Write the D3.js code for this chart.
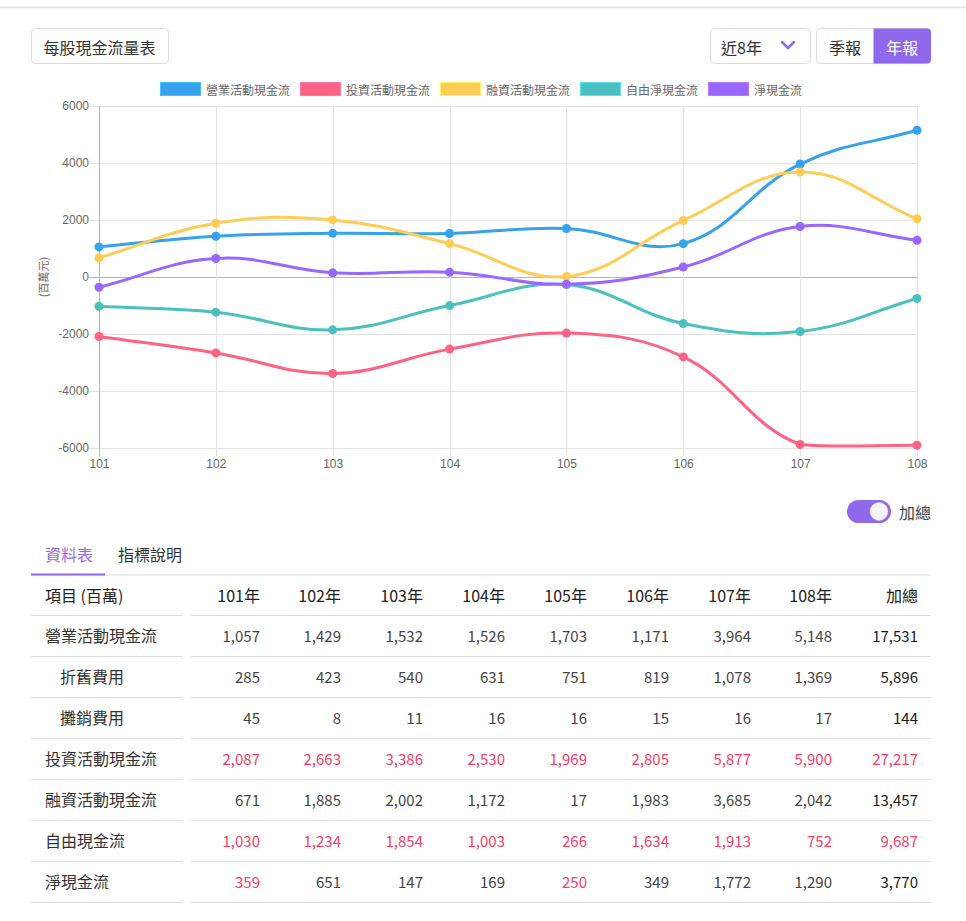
<!DOCTYPE html>
<html>
<head>
<meta charset="utf-8">
<script src="https://cdn.jsdelivr.net/npm/d3@7"></script>
<style>
  body { margin: 0; background: #fff; }
  svg { display: block; font-family: "Noto Sans CJK TC", "Noto Sans", sans-serif; }
</style>
</head>
<body>
<section></section>
<script>
"use strict";

// data
const years = ["101", "102", "103", "104", "105", "106", "107", "108"];
const seriesNames = ["營業活動現金流", "投資活動現金流", "融資活動現金流", "自由淨現金流", "淨現金流"];
const seriesColors = ["#36a2eb", "#ff6384", "#ffcd56", "#4bc0c0", "#9966ff"];
const operating = [1057, 1429, 1532, 1526, 1703, 1171, 3964, 5148];
const depreciation = [285, 423, 540, 631, 751, 819, 1078, 1369];
const amortization = [45, 8, 11, 16, 16, 15, 16, 17];
const investing = [-2087, -2663, -3386, -2530, -1969, -2805, -5877, -5900];
const financing = [671, 1885, 2002, 1172, 17, 1983, 3685, 2042];
const freeCash = [-1030, -1234, -1854, -1003, -266, -1634, -1913, -752];
const netCash = [-359, 651, 147, 169, -250, 349, 1772, 1290];
const rowLabels = ["營業活動現金流", "折舊費用", "攤銷費用", "投資活動現金流", "融資活動現金流", "自由現金流", "淨現金流"];
const rowTotals = [17531, 5896, 144, -27217, 13457, -9687, 3770];
const yTicks = [-6000, -4000, -2000, 0, 2000, 4000, 6000];

const chartSeries = [operating, investing, financing, freeCash, netCash];
const tableRows = [operating, depreciation, amortization, investing, financing, freeCash, netCash];

const w = 966;
const h = 921;
const purple = "#8f68eb";
const red = "#fa3c66";

const svg = d3.select("section").append("svg").attr("width", w).attr("height", h);

// top separator
svg.append("line").attr("x1", 0).attr("x2", w).attr("y1", 7.5).attr("y2", 7.5)
  .attr("stroke", "#e2e2e2").attr("stroke-width", 1.5);

//Buttons on top
const button = (x, y, bw, bh, label, opts = {}) => {
  const g = svg.append("g");
  g.append("rect").attr("x", x + 0.5).attr("y", y + 0.5).attr("width", bw).attr("height", bh)
    .attr("rx", 4).attr("fill", opts.fill || "#fff").attr("stroke", opts.stroke || "#dcdcdc");
  g.append("text").attr("x", opts.tx || x + bw / 2).attr("y", y + bh / 2 + 1)
    .attr("text-anchor", opts.anchor || "middle").attr("dominant-baseline", "central")
    .attr("font-size", 16).attr("fill", opts.color || "#333").text(label);
  return g;
};
button(31, 28, 137, 35, "每股現金流量表");
const dd = button(710, 28, 100, 35, "近8年", { anchor: "start", tx: 721 });
dd.append("path").attr("d", "M782,42 L788,48 L794,42").attr("fill", "none")
  .attr("stroke", purple).attr("stroke-width", 2.5).attr("stroke-linecap", "round").attr("stroke-linejoin", "round");
button(816, 28, 114, 35, "");
svg.append("path").attr("d", "M873.5,28.5 H927 a4,4 0 0 1 4,4 V59.5 a4,4 0 0 1 -4,4 H873.5 Z").attr("fill", purple);
svg.append("text").attr("x", 845).attr("y", 47).attr("text-anchor", "middle").attr("dominant-baseline", "central")
  .attr("font-size", 16).attr("fill", "#333").text("季報");
svg.append("text").attr("x", 902).attr("y", 47).attr("text-anchor", "middle").attr("dominant-baseline", "central")
  .attr("font-size", 16).attr("fill", "#fff").text("年報");

//Legend
const legend = svg.append("g");
let lx = 0;
seriesNames.forEach((name, i) => {
  const item = legend.append("g").attr("transform", `translate(${lx},0)`);
  item.append("rect").attr("x", 0.5).attr("y", 82.5).attr("width", 40).attr("height", 13)
    .attr("fill", seriesColors[i]).attr("stroke", d3.color(seriesColors[i]).brighter(0.5));
  const t = item.append("text").attr("x", 46).attr("y", 89.5).attr("dominant-baseline", "central")
    .attr("font-size", 12).attr("fill", "#666").text(name);
  lx += 40 + 6 + t.node().getComputedTextLength() + 10;
});
legend.attr("transform", `translate(${481 - (lx - 10) / 2},0)`);

//Scales
const xScale = d3.scalePoint().domain(years).range([99, 917]);
const yScale = d3.scaleLinear().domain([-6000, 6000]).range([448, 106]);

const grid = svg.append("g");
grid.selectAll("line.h").data(yTicks).enter().append("line")
  .attr("x1", 89).attr("x2", 917)
  .attr("y1", (d) => Math.round(yScale(d)) + 0.5).attr("y2", (d) => Math.round(yScale(d)) + 0.5)
  .attr("stroke", (d) => (d === 0 ? "#b5b5b5" : "#e3e3e3"));
grid.selectAll("line.v").data(years).enter().append("line")
  .attr("x1", (d) => Math.round(xScale(d)) + 0.5).attr("x2", (d) => Math.round(xScale(d)) + 0.5)
  .attr("y1", 106).attr("y2", 456)
  .attr("stroke", (d, i) => (i === 0 ? "#b5b5b5" : "#e3e3e3"));

const yAxis = d3.axisLeft(yScale).tickValues(yTicks).tickSize(0).tickPadding(10)
  .tickFormat((d) => String(d));
const yAxisG = svg.append("g").attr("transform", "translate(99,0)").call(yAxis)
  .call((g) => g.select(".domain").remove());
yAxisG.selectAll("text").attr("font-family", "'Liberation Sans', Arial, sans-serif")
  .attr("font-size", 12).attr("fill", "#666");

const xAxis = d3.axisBottom(xScale).tickSize(0).tickPadding(11);
const xAxisG = svg.append("g").attr("transform", "translate(0,448)").call(xAxis)
  .call((g) => g.select(".domain").remove());
xAxisG.selectAll("text").attr("font-family", "'Liberation Sans', Arial, sans-serif")
  .attr("font-size", 12).attr("fill", "#666");

svg.append("text").attr("transform", "translate(43,277) rotate(-90)").attr("text-anchor", "middle")
  .attr("dominant-baseline", "central").attr("font-size", 11).attr("fill", "#666").text("(百萬元)");

//Bezier path like chart.js (tension 0.4), control points capped to chart area
const [yBottom, yTop] = yScale.range();
const cap = (v) => Math.max(yTop, Math.min(yBottom, v));
const splinePath = (pts, t) => {
  const cps = pts.map((p, i) => {
    const prev = pts[Math.max(i - 1, 0)];
    const next = pts[Math.min(i + 1, pts.length - 1)];
    const d01 = Math.hypot(p[0] - prev[0], p[1] - prev[1]);
    const d12 = Math.hypot(next[0] - p[0], next[1] - p[1]);
    let s01 = d01 / (d01 + d12);
    let s12 = d12 / (d01 + d12);
    if (isNaN(s01)) s01 = 0;
    if (isNaN(s12)) s12 = 0;
    const fa = t * s01;
    const fb = t * s12;
    return {
      prev: [p[0] - fa * (next[0] - prev[0]), cap(p[1] - fa * (next[1] - prev[1]))],
      next: [p[0] + fb * (next[0] - prev[0]), cap(p[1] + fb * (next[1] - prev[1]))],
    };
  });
  const path = d3.path();
  path.moveTo(pts[0][0], pts[0][1]);
  for (let i = 1; i < pts.length; i++) {
    path.bezierCurveTo(cps[i - 1].next[0], cps[i - 1].next[1], cps[i].prev[0], cps[i].prev[1], pts[i][0], pts[i][1]);
  }
  return path.toString();
};

const lines = svg.append("g");
chartSeries.forEach((values, i) => {
  const pts = values.map((v, j) => [xScale(years[j]), yScale(v)]);
  lines.append("path").attr("d", splinePath(pts, 0.4)).attr("fill", "none")
    .attr("stroke", seriesColors[i]).attr("stroke-width", 3);
});
chartSeries.forEach((values, i) => {
  lines.append("g").selectAll("circle").data(values).enter().append("circle")
    .attr("cx", (d, j) => xScale(years[j])).attr("cy", (d) => yScale(d))
    .attr("r", 4.5).attr("fill", seriesColors[i]);
});

//Toggle
svg.append("rect").attr("x", 847).attr("y", 500).attr("width", 44).attr("height", 23).attr("rx", 11.5).attr("fill", purple);
svg.append("circle").attr("cx", 879).attr("cy", 511.5).attr("r", 9).attr("fill", "#f4f4f6")
  .attr("stroke", "#ddd").attr("stroke-width", 0.5);
svg.append("text").attr("x", 899).attr("y", 512).attr("dominant-baseline", "central")
  .attr("font-size", 16).attr("fill", "#444").text("加總");

//Tabs
svg.append("text").attr("x", 45).attr("y", 554).attr("dominant-baseline", "central")
  .attr("font-size", 16).attr("fill", purple).text("資料表");
svg.append("text").attr("x", 118).attr("y", 554).attr("dominant-baseline", "central")
  .attr("font-size", 16).attr("fill", "#333").text("指標說明");
svg.append("line").attr("x1", 31).attr("x2", 931).attr("y1", 575).attr("y2", 575).attr("stroke", "#ddd");
svg.append("line").attr("x1", 31).attr("x2", 105).attr("y1", 574.5).attr("y2", 574.5).attr("stroke", purple).attr("stroke-width", 2);

//Table
const colRight = [260, 341, 423, 505, 587, 669, 751, 832, 918];
const headerY = 595;
const rowH = 41;
const table = svg.append("g").attr("font-size", 15);
table.append("text").attr("x", 45).attr("y", headerY).attr("dominant-baseline", "central")
  .attr("font-size", 16).attr("fill", "#222").text("項目 (百萬)");
years.concat(["加總"]).forEach((y, i) => {
  table.append("text").attr("x", colRight[i]).attr("y", headerY).attr("text-anchor", "end")
    .attr("dominant-baseline", "central").attr("font-size", 16).attr("fill", "#222")
    .text(i < years.length ? `${y}年` : y);
});
const fmt = d3.format(",");
for (let r = 0; r <= tableRows.length; r++) {
  const ly = headerY + 20.5 + r * rowH;
  table.append("line").attr("x1", 31).attr("x2", 183).attr("y1", ly).attr("y2", ly).attr("stroke", "#ddd");
  table.append("line").attr("x1", 191).attr("x2", 931).attr("y1", ly).attr("y2", ly).attr("stroke", "#ddd");
}
tableRows.forEach((row, r) => {
  const cy = headerY + 40 + r * rowH;
  const indent = r === 1 || r === 2;
  table.append("text").attr("x", indent ? 60 : 45).attr("y", cy).attr("dominant-baseline", "central")
    .attr("font-size", 16).attr("fill", "#333").text(rowLabels[r]);
  row.concat([rowTotals[r]]).forEach((v, i) => {
    table.append("text").attr("x", colRight[i]).attr("y", cy).attr("text-anchor", "end")
      .attr("dominant-baseline", "central")
      .attr("fill", v < 0 ? red : i === years.length ? "#1a1a1a" : "#444")
      .text(fmt(Math.abs(v)));
  });
});
</script>
</body>
</html>
